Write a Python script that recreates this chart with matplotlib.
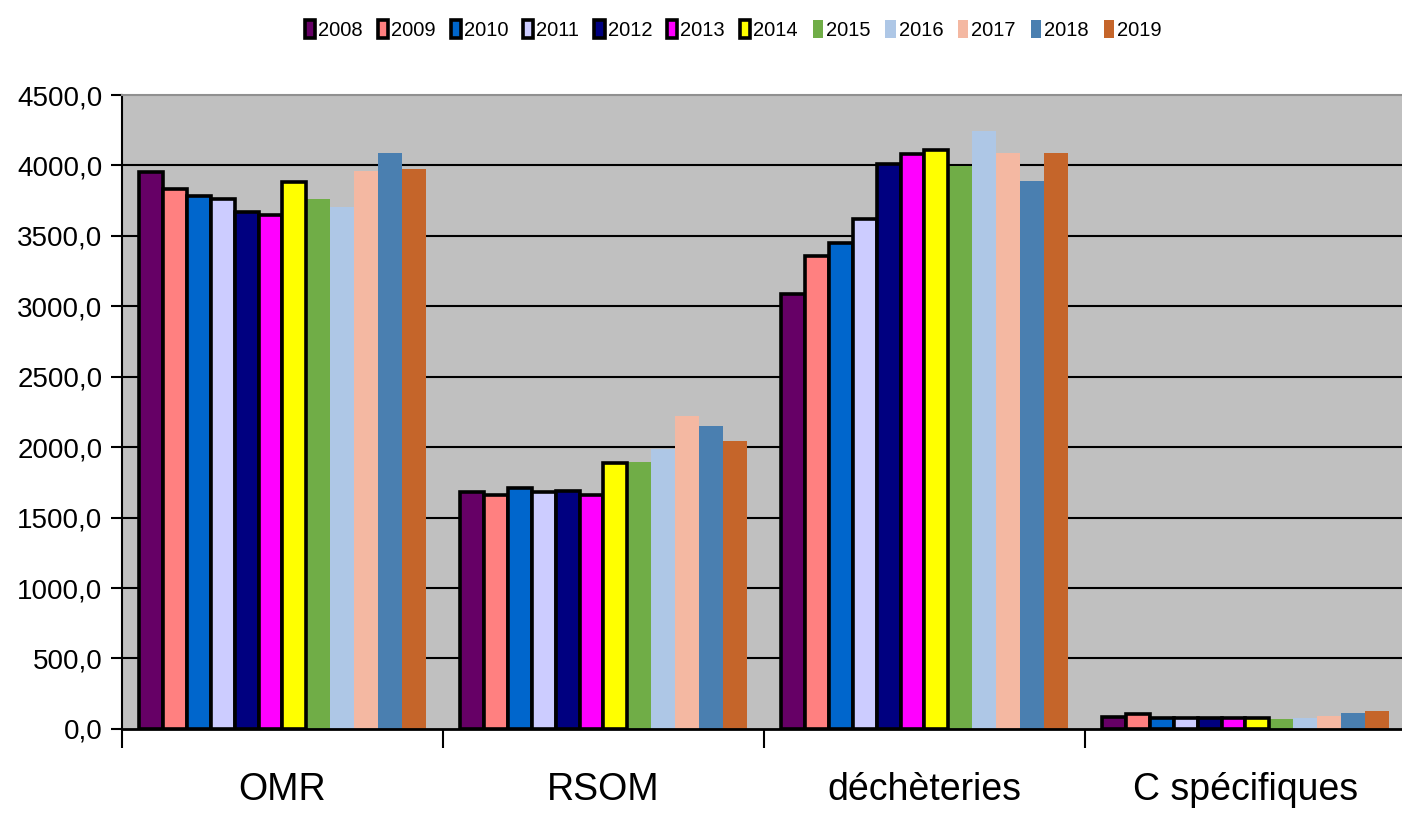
import matplotlib
matplotlib.use("Agg")
import matplotlib.pyplot as plt
import numpy as np
from matplotlib.ticker import FuncFormatter, FixedLocator

categories = ["OMR", "RSOM", "déchèteries", "C spécifiques"]
years = ["2008", "2009", "2010", "2011", "2012", "2013", "2014",
         "2015", "2016", "2017", "2018", "2019"]

v2008 = [3950, 1680, 3090, 85]
v2009 = [3830, 1660, 3360, 105]
v2010 = [3780, 1710, 3450, 78]
v2011 = [3760, 1680, 3620, 78]
v2012 = [3670, 1690, 4010, 78]
v2013 = [3650, 1660, 4080, 78]
v2014 = [3880, 1890, 4110, 78]
v2015 = [3760, 1895, 3995, 68]
v2016 = [3705, 1985, 4245, 75]
v2017 = [3960, 2220, 4085, 92]
v2018 = [4088, 2150, 3890, 113]
v2019 = [3975, 2045, 4085, 128]

series = [v2008, v2009, v2010, v2011, v2012, v2013, v2014,
          v2015, v2016, v2017, v2018, v2019]
colors = ["#660066", "#FF8080", "#0066CC", "#CCCCFF", "#000080", "#FF00FF",
          "#FFFF00", "#70AD47", "#AEC7E6", "#F4B8A2", "#4A7FB0", "#C5652A"]
outlined = [True] * 7 + [False] * 5

font = ["Liberation Sans Narrow", "Liberation Sans", "DejaVu Sans"]
plt.rcParams["font.family"] = font

fig = plt.figure(figsize=(14.02, 8.19), dpi=100)
ax = fig.add_axes([0.087, 0.110, 0.9158, 0.774])
ax.set_facecolor("#C0C0C0")

x = np.arange(len(categories))
w = 0.0745
offsets = (np.arange(len(years)) - (len(years) - 1) / 2) * w

handles = []
for i, vals in enumerate(series):
    if outlined[i]:
        b = ax.bar(x + offsets[i], vals, w, color=colors[i], edgecolor="black",
                   linewidth=2.6, zorder=3, label=years[i])
    else:
        b = ax.bar(x + offsets[i], vals, w, color=colors[i], linewidth=0,
                   zorder=2.5, label=years[i])
    handles.append(b)

ax.set_xlim(-0.5, 3.5)
ax.set_ylim(0, 4500)

ax.yaxis.set_major_locator(FixedLocator(np.arange(0, 4501, 500)))
ax.yaxis.set_major_formatter(FuncFormatter(lambda v, p: f"{v:.1f}".replace(".", ",")))
for yv in np.arange(500, 4001, 500):
    ax.axhline(yv, color="black", linewidth=1.5, zorder=1)

ax.set_xticks(x)
ax.set_xticklabels(categories, fontsize=27)
ax.set_xticks([-0.5, 0.5, 1.5, 2.5], minor=True)
ax.tick_params(axis="x", which="major", length=0, pad=31)
ax.tick_params(axis="x", which="minor", length=14, width=1.5, direction="out")
ax.tick_params(axis="y", length=8, width=1.5, direction="out", labelsize=20, pad=6)

ax.spines["left"].set_linewidth(1.5)
ax.spines["bottom"].set_linewidth(2)
ax.spines["right"].set_visible(False)
ax.spines["top"].set_color("#909090")
ax.spines["top"].set_linewidth(1.5)

leg = fig.legend(handles=handles, loc="center", bbox_to_anchor=(0.523, 0.963),
                 ncol=12, frameon=False, fontsize=14.5, handlelength=0.5,
                 handleheight=1.0, handletextpad=0.15, columnspacing=0.75)

fig.savefig("out.png", dpi=100)
